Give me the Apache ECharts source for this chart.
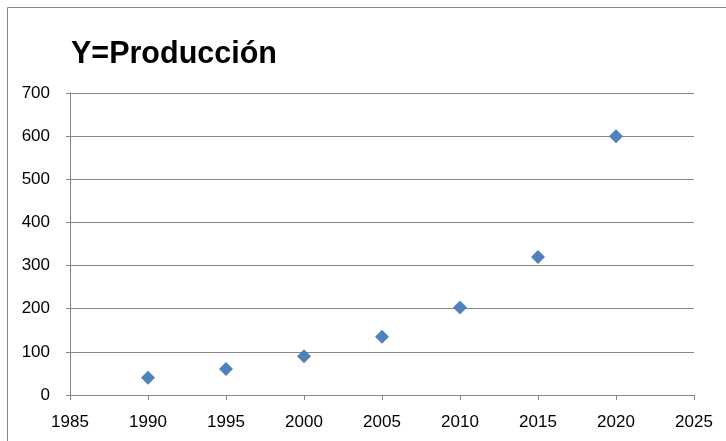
<!DOCTYPE html>
<html>
<head>
<meta charset="utf-8">
<script src="https://cdn.jsdelivr.net/npm/echarts@6/dist/echarts.min.js"></script>
<style>
  html, body { margin: 0; padding: 0; background: #fff; }
  #chart { width: 726px; height: 441px; }
</style>
</head>
<body>
<div id="chart"></div>
<script>
// datos
var years = [1990, 1995, 2000, 2005, 2010, 2015, 2020];
var produccion = [40, 60, 90, 135, 203, 320, 600];
var xTicks = [1985, 2025, 5];   // min, max, interval
var yTicks = [0, 700, 100];

var chart = echarts.init(document.getElementById("chart"));

var points = years.map(function (y, i) { return [y, produccion[i]]; });

chart.setOption({
  animation: false,
  graphic: [
    {
      // borde del área del gráfico (se sale por la derecha y por abajo)
      type: "rect",
      shape: { x: 7.5, y: 7.5, width: 740, height: 450 },
      style: { fill: null, stroke: "#868686", lineWidth: 1 }
    }
  ],
  title: {
    text: "Y=Producción",
    left: 66,
    top: 34,
    textStyle: {
      fontFamily: "Liberation Sans",
      fontWeight: "bold",
      fontSize: 30.5,
      color: "#000"
    }
  },
  grid: { left: 70, right: 32, top: 93, bottom: 46 },
  xAxis: {
    type: "value",
    min: xTicks[0],
    max: xTicks[1],
    interval: xTicks[2],
    axisLine: { show: true, onZero: false, lineStyle: { color: "#868686", width: 1 } },
    axisTick: { show: true, length: 5, lineStyle: { color: "#868686" } },
    splitLine: { show: false },
    axisLabel: {
      color: "#000", fontSize: 17, fontFamily: "Liberation Sans", margin: 19,
      formatter: function (v) { return String(v); }
    }
  },
  yAxis: {
    type: "value",
    min: yTicks[0],
    max: yTicks[1],
    interval: yTicks[2],
    axisLine: { show: true, lineStyle: { color: "#868686", width: 1 } },
    axisTick: { show: true, length: 4, lineStyle: { color: "#868686" } },
    splitLine: { show: true, lineStyle: { color: "#868686", width: 1 } },
    axisLabel: { color: "#000", fontSize: 17, fontFamily: "Liberation Sans", margin: 20 }
  },
  series: [
    {
      name: "Producción",
      type: "scatter",
      symbol: "diamond",
      symbolSize: 14,
      itemStyle: { color: "#4F81BD", opacity: 1 },
      data: points
    }
  ]
});
</script>
</body>
</html>
